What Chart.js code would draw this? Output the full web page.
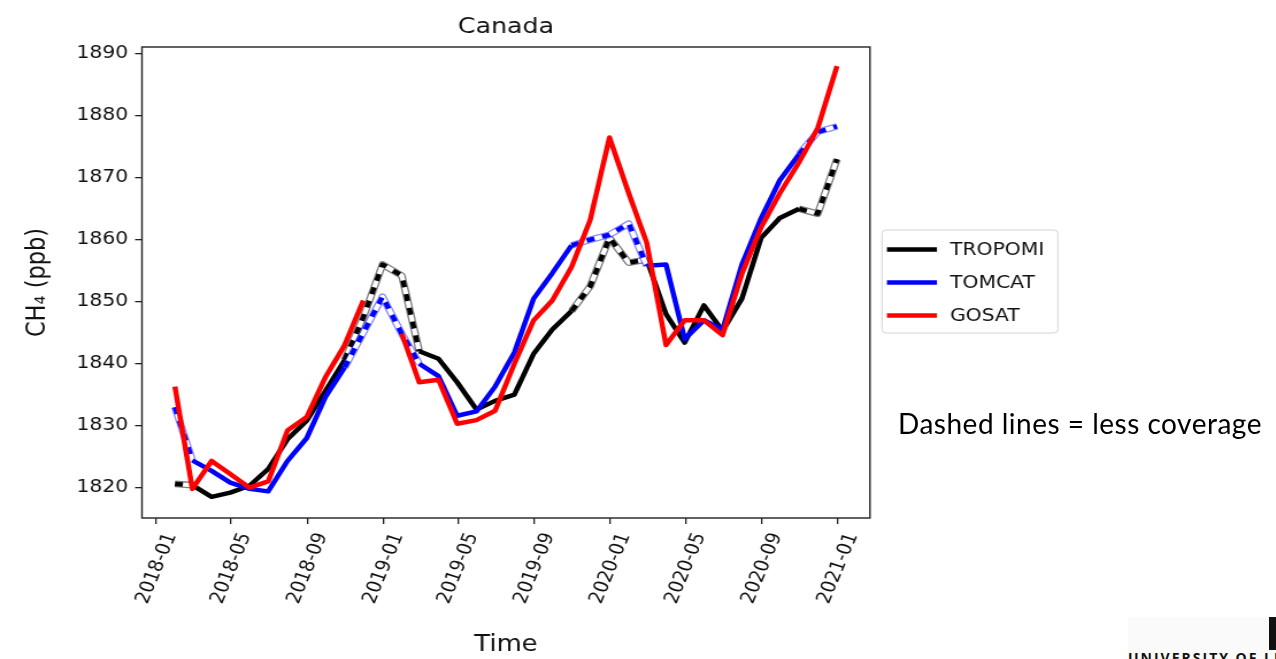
<!DOCTYPE html>
<html>
<head>
<meta charset="utf-8">
<title>Canada CH4</title>
<script src="https://cdn.jsdelivr.net/npm/chart.js@4.4.1/dist/chart.umd.min.js"></script>
<style>
  html, body { margin: 0; padding: 0; background: #fff; }
  body { width: 1276px; height: 659px; overflow: hidden; position: relative; }
  /* the figure is drawn narrower and widened horizontally, as on the slide */
  #fig { position: absolute; left: 0; top: 0; width: 1110px; height: 659px;
         transform: scaleX(1.1495); transform-origin: 0 0; }
  #note { position: absolute; left: 898px; top: 407px; font-family: Lato, "Open Sans", sans-serif;
          font-size: 28px; line-height: 32px; letter-spacing: 0.5px; color: #000; white-space: nowrap; }
  #logo { position: absolute; left: 1128px; top: 617px; width: 148px; height: 42px;
          background: #fafafa; overflow: hidden; }
  #logo .bar { position: absolute; left: 141px; top: 0; width: 10px; height: 33px; background: #111; }
  #logo .name { position: absolute; left: 0; top: 34px; font-family: "Open Sans", sans-serif;
                font-weight: 700; font-size: 14px; line-height: 14px; letter-spacing: 2px; color: #111; white-space: nowrap; }
</style>
</head>
<body>
<div id="fig"><canvas id="c" width="1110" height="659"></canvas></div>
<div id="note">Dashed lines = less coverage</div>
<div id="logo"><div class="bar"></div><div class="name">UNIVERSITY OF LEICESTER</div></div>
<script>
// Monthly mean CH4 over Canada (ppb), one value per month
const months = ['2018-01','2018-02','2018-03','2018-04','2018-05','2018-06','2018-07','2018-08','2018-09','2018-10','2018-11','2018-12',
                '2019-01','2019-02','2019-03','2019-04','2019-05','2019-06','2019-07','2019-08','2019-09','2019-10','2019-11','2019-12',
                '2020-01','2020-02','2020-03','2020-04','2020-05','2020-06','2020-07','2020-08','2020-09','2020-10','2020-11','2020-12'];

const tropomi = [1820.6, 1820.4, 1818.5, 1819.2, 1820.3, 1823.0, 1827.8, 1830.8, 1835.6, 1840.6, 1847.5, 1856.0,
                 1854.2, 1842.0, 1840.8, 1837.0, 1832.6, 1834.0, 1835.0, 1841.6, 1845.5, 1848.5, 1852.5, 1860.3,
                 1856.3, 1856.8, 1848.0, 1843.4, 1849.4, 1845.3, 1850.5, 1860.3, 1863.5, 1865.0, 1864.2, 1873.0];

const tomcat  = [1833.0, 1824.4, 1822.7, 1820.8, 1819.8, 1819.4, 1824.3, 1828.0, 1834.6, 1839.4, 1845.0, 1850.8,
                 1844.8, 1840.0, 1838.0, 1831.6, 1832.3, 1836.3, 1841.8, 1850.5, 1854.6, 1859.1, 1860.0, 1860.8,
                 1862.6, 1855.8, 1856.0, 1844.0, 1847.0, 1845.5, 1856.0, 1863.5, 1869.6, 1873.8, 1877.4, 1878.3];

const gosat   = [1836.3, 1819.8, 1824.3, 1822.2, 1820.0, 1821.0, 1829.2, 1831.4, 1837.8, 1843.0, 1850.2, null,
                 1844.8, 1837.0, 1837.4, 1830.3, 1830.9, 1832.4, 1840.0, 1847.0, 1850.2, 1855.6, 1863.2, 1876.5,
                 1867.5, 1859.5, 1843.0, 1847.0, 1847.0, 1844.6, 1854.5, 1862.0, 1867.5, 1872.5, 1878.0, 1888.0];

// month index ranges with less coverage (drawn dashed)
const tropomiSparse = [[0, 1], [9, 13], [21, 25], [33, 35]];
const tomcatSparse  = [[0, 1], [9, 13], [21, 25], [33, 35]];
const gosatSparse   = [];

const seriesNames  = ['TROPOMI', 'TOMCAT', 'GOSAT'];
const seriesColors = ['#000000', '#0000ff', '#ff0000'];

const yTicks = [1820, 1830, 1840, 1850, 1860, 1870, 1880, 1890];
const xTickLabels = ['2018-01','2018-05','2018-09','2019-01','2019-05','2019-09','2020-01','2020-05','2020-09','2021-01'];

// ---------------------------------------------------------------
const DAY = 86400000;
function monthEnd(s) { const [y, m] = s.split('-').map(Number); return Date.UTC(y, m, 0); }
function monthStart(s) { const [y, m] = s.split('-').map(Number); return Date.UTC(y, m - 1, 1); }

const xs = months.map(monthEnd);
const xMin = xs[0] - 53 * DAY;
const xMax = xs[xs.length - 1] + 53 * DAY;
const xTickValues = xTickLabels.map(monthStart);

const toPoints = vals => vals.map((v, i) => ({ x: xs[i], y: v }));
const inSparse = (ranges, i) => ranges.some(([a, b]) => i >= a && i < b);

const LW = 4.5;
const CLEAR = 'rgba(0,0,0,0)';

function seriesLayers(vals, sparse, color, outline, baseOrder, label) {
  const pts = toPoints(vals);
  const common = { data: pts, pointRadius: 0, pointHoverRadius: 0, fill: false, tension: 0,
                   borderJoinStyle: 'round', borderCapStyle: 'butt', spanGaps: false };
  return [
    Object.assign({}, common, {   // thick colored line, dashed where coverage is low
      label, borderColor: color, borderWidth: LW, order: baseOrder,
      segment: { borderDash: ctx => inSparse(sparse, ctx.p0DataIndex) ? [7, 7] : undefined }
    }),
    Object.assign({}, common, {   // hollow core behind the dashes
      label: label + ' core', borderColor: '#ffffff', borderWidth: LW - 0.5, order: baseOrder + 1,
      segment: { borderColor: ctx => inSparse(sparse, ctx.p0DataIndex) ? '#ffffff' : CLEAR }
    }),
    Object.assign({}, common, {   // thin edge around dashed parts
      label: label + ' edge', borderColor: outline, borderWidth: LW + 2.2, order: baseOrder + 2,
      segment: { borderColor: ctx => inSparse(sparse, ctx.p0DataIndex) ? outline : CLEAR }
    })
  ];
}

const datasets = [
  ...seriesLayers(tropomi, tropomiSparse, seriesColors[0], 'rgba(0,0,0,0.5)', 6, seriesNames[0]),
  ...seriesLayers(tomcat,  tomcatSparse,  seriesColors[1], 'rgba(0,0,255,0.45)', 3, seriesNames[1]),
  ...seriesLayers(gosat,   gosatSparse,   seriesColors[2], 'rgba(255,0,0,0.45)', 0, seriesNames[2])
];

const FONT = 'DejaVu Sans';
const FS = 17.7;     // tick and legend text
const FL = 22.5;     // axis labels
const INK = '#111';

const decorations = {
  id: 'decorations',
  afterDraw(chart) {
    const { ctx, chartArea: a } = chart;
    ctx.save();
    // axes frame
    ctx.strokeStyle = '#222';
    ctx.lineWidth = 1.4;
    ctx.strokeRect(a.left, a.top, a.right - a.left, a.bottom - a.top);

    // title
    ctx.fillStyle = INK;
    ctx.font = `22px "${FONT}"`;
    ctx.textAlign = 'center';
    ctx.textBaseline = 'alphabetic';
    ctx.fillText('Canada', (a.left + a.right) / 2, 33);

    // legend
    const bx = 767.3, by = 230, bw = 153, bh = 103, r = 3.5;
    ctx.beginPath();
    ctx.moveTo(bx + r, by);
    ctx.arcTo(bx + bw, by, bx + bw, by + bh, r);
    ctx.arcTo(bx + bw, by + bh, bx, by + bh, r);
    ctx.arcTo(bx, by + bh, bx, by, r);
    ctx.arcTo(bx, by, bx + bw, by, r);
    ctx.closePath();
    ctx.fillStyle = '#fff';
    ctx.fill();
    ctx.strokeStyle = '#d4d4d4';
    ctx.lineWidth = 1;
    ctx.stroke();

    const rows = [249.5, 282.5, 315.5];
    ctx.font = `${FS}px "${FONT}"`;
    ctx.textAlign = 'left';
    ctx.textBaseline = 'middle';
    seriesNames.forEach((name, i) => {
      ctx.strokeStyle = seriesColors[i];
      ctx.lineWidth = LW;
      ctx.beginPath();
      ctx.moveTo(771.6, rows[i]);
      ctx.lineTo(815.1, rows[i]);
      ctx.stroke();
      ctx.fillStyle = INK;
      ctx.fillText(name, 826.4, rows[i] + 1);
    });
    ctx.restore();
  }
};

new Chart(document.getElementById('c'), {
  type: 'line',
  data: { datasets },
  options: {
    responsive: false,
    animation: false,
    devicePixelRatio: 1,
    layout: { padding: { left: 0, top: 47, right: 1110 - 756.8, bottom: 0 } },
    plugins: { legend: { display: false }, title: { display: false }, tooltip: { enabled: false } },
    scales: {
      x: {
        type: 'linear',
        min: xMin, max: xMax,
        afterBuildTicks: s => { s.ticks = xTickValues.map(v => ({ value: v })); },
        afterFit: s => { s.height = 659 - 518; },
        grid: { display: true, drawOnChartArea: false, drawTicks: true, tickLength: 6, color: '#222', lineWidth: 1.3 },
        border: { display: false },
        ticks: {
          autoSkip: false, minRotation: 70, maxRotation: 70, padding: 6, labelOffset: 13,
          color: INK, font: { family: FONT, size: FS },
          callback: (v, i) => xTickLabels[i]
        },
        title: { display: true, text: 'Time', color: INK, font: { family: FONT, size: FL, lineHeight: 1.2 },
                 padding: { top: 0, bottom: 0 } }
      },
      y: {
        type: 'linear',
        min: 1815.1, max: 1891.1,
        afterBuildTicks: s => { s.ticks = yTicks.map(v => ({ value: v })); },
        afterFit: s => { s.width = 123.5; },
        grid: { display: true, drawOnChartArea: false, drawTicks: true, tickLength: 6, color: '#222', lineWidth: 1.3 },
        border: { display: false },
        ticks: { padding: 6, color: INK, font: { family: FONT, size: FS }, callback: v => String(v) },
        title: { display: true, text: 'CH₄ (ppb)', color: INK, font: { family: FONT, size: FL, lineHeight: 1.2 },
                 padding: { top: 20, bottom: 0 } }
      }
    }
  },
  plugins: [decorations]
});
</script>
</body>
</html>
